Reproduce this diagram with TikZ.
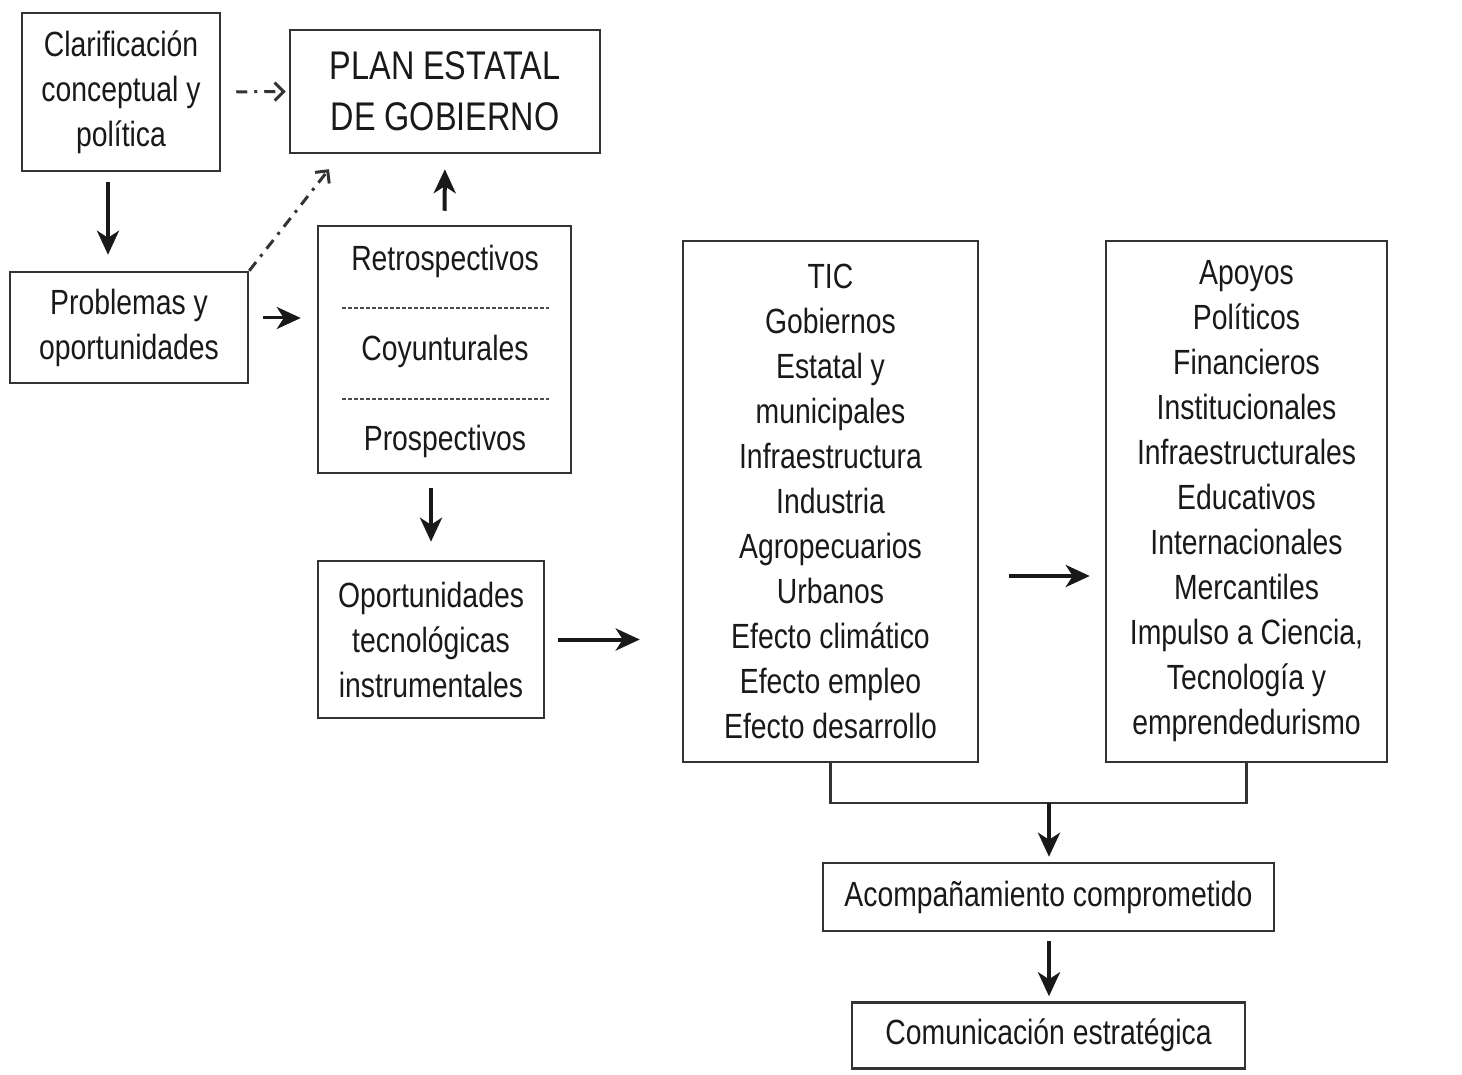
\documentclass[tikz,border=0pt]{standalone}
\usepackage{fontspec}
\setmainfont{Liberation Sans}[FakeStretch=0.81]
\usetikzlibrary{arrows.meta}
\usetikzlibrary{positioning}
\tikzset{
  x = 1pt, y = -1pt,
  > = {Stealth[length=24pt, width=22pt, inset=7pt]},
  box/.style = {draw = black!80, line width = 2.5pt, inner sep = 0pt, align = center,
                text = black!90, font = \fontsize{35}{45}\selectfont},
  arr/.style = {->, line width = 4pt, black!90},
  dasharr/.style = {-{Straight Barb[length=9pt, width=18pt, line width=3pt]},
                    line width = 3pt, black!80, dash pattern = on 11pt off 7pt on 3pt off 7pt},
  sep/.style = {line width = 1.8pt, black!70, dash pattern = on 4pt off 2pt}
}

\begin{document}
\begin{tikzpicture}
  \useasboundingbox (0,0) rectangle (1462,1075);
  % nodes
  \node (clar) [box, minimum width = 198pt, minimum height = 158pt] at (121,92)
    {Clarificación\\conceptual y\\política};
  \node (plan) [box, minimum width = 310pt, minimum height = 123pt,
                font = \fontsize{40}{51}\selectfont] at (445,91.5)
    {PLAN ESTATAL\\DE GOBIERNO};
  \node (prob) [box, minimum width = 238pt, minimum height = 111pt] at (129,327.5)
    {Problemas y\\oportunidades};
  \node (retro) [box, minimum width = 253pt, minimum height = 247pt] at (444.5,349.5) {};
  \node (r1) [box, draw = none] at (445,261) {Retrospectivos};
  \node (r2) [box, draw = none] at (445,351) {Coyunturales};
  \node (r3) [box, draw = none] at (445,441) {Prospectivos};
  \node (opor) [box, minimum width = 226pt, minimum height = 157pt] at (431,639.5)
    {Oportunidades\\tecnológicas\\instrumentales};
  \node (tic) [box, minimum width = 295pt, minimum height = 521pt] at (830.5,501.5)
    {TIC\\Gobiernos\\Estatal y\\municipales\\Infraestructura\\Industria\\Agropecuarios\\%
     Urbanos\\Efecto climático\\Efecto empleo\\Efecto desarrollo};
  \node (apo) [box, minimum width = 281pt, minimum height = 521pt] at (1246.5,501.5)
    {Apoyos\\Políticos\\Financieros\\Institucionales\\Infraestructurales\\Educativos\\%
     Internacionales\\Mercantiles\\Impulso a Ciencia,\\Tecnología y\\emprendedurismo};
  \coordinate (join) at (1049,803);
  \node (acom) [box, minimum width = 451pt, minimum height = 68pt] at (1048.5,897)
    {Acompañamiento comprometido};
  \node (comm) [box, minimum width = 393pt, minimum height = 66pt,
                below = 69pt of acom] {Comunicación estratégica};
  % separators
  \draw [sep] (342,308) -- (549,308);
  \draw [sep] (342,399) -- (549,399);
  % edges
  \draw [arr, shorten <= 10pt, shorten >= 16pt]
    ([xshift=-13pt]clar.south) -- ([xshift=-13pt]clar.south |- prob.north);
  \draw [dasharr, shorten <= 15pt, shorten >= 3pt] (clar.east) -- (plan.west);
  \draw [dasharr, shorten >= 19pt] (prob.north east) -- ([xshift=52pt]plan.south west);
  \draw [arr, line width = 3pt, shorten <= 14pt, shorten >= 16pt]
    ([yshift=9.5pt]prob.east) -- ([yshift=9.5pt]prob.east -| retro.west);
  \draw [arr, shorten <= 14pt, shorten >= 15pt] (retro.north) -- (plan.south);
  \draw [arr, shorten <= 14pt, shorten >= 18pt] (opor.north |- retro.south) -- (opor.north);
  \draw [arr, shorten <= 13pt, shorten >= 42pt] (opor.east) -- (opor.east -| tic.west);
  \draw [arr, shorten <= 30pt, shorten >= 15pt]
    ([yshift=-74.5pt]tic.east) -- ([yshift=-74.5pt]tic.east -| apo.west);
  \draw [line width = 2.5pt, black!80] (tic.south) |- (join) -| (apo.south);
  \draw [arr, shorten >= 5pt] (join) -- (join |- acom.north);
  \draw [arr, shorten <= 9pt, shorten >= 5pt] (join |- acom.south) -- (join |- comm.north);
\end{tikzpicture}
\end{document}
